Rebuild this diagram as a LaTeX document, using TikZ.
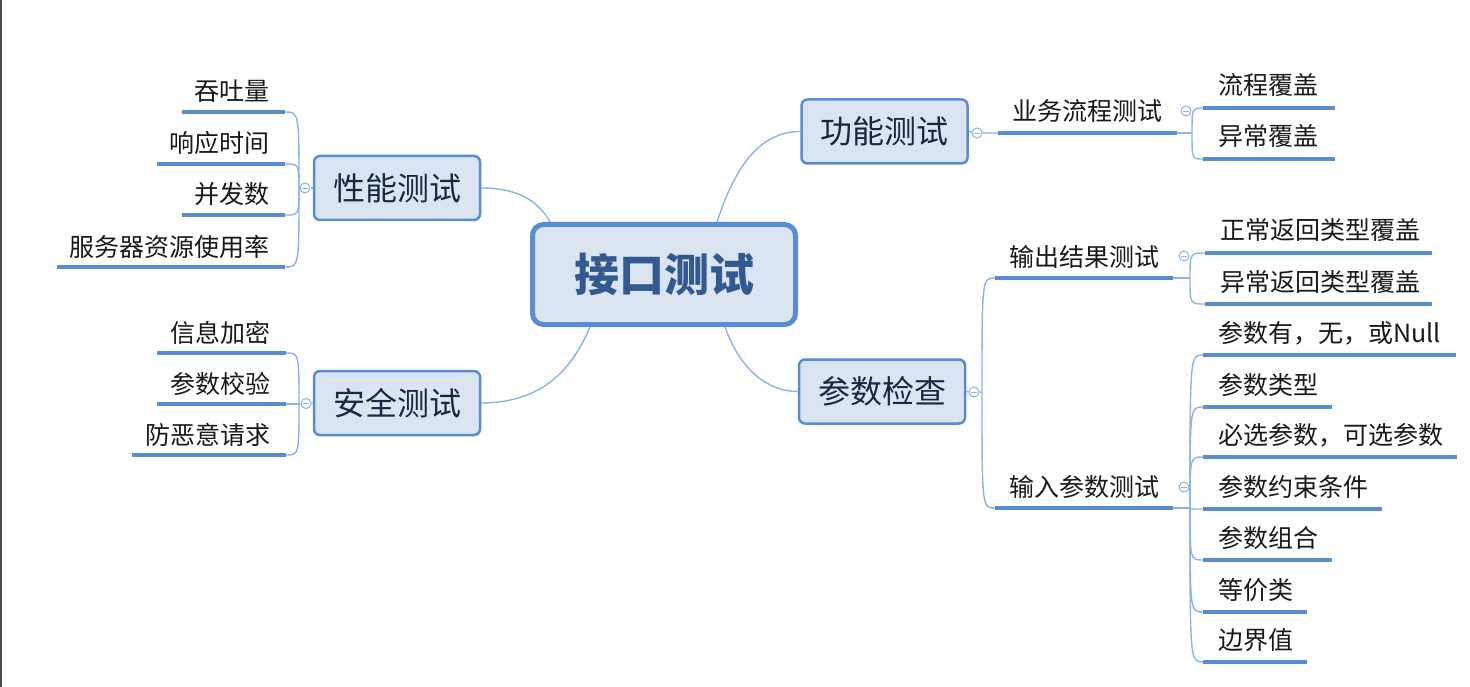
\documentclass[tikz,border=0pt]{standalone}
\usepackage{fontspec}
\setmainfont{Noto Sans CJK SC}
\usetikzlibrary{backgrounds}
\definecolor{mainblue}{RGB}{88,141,212}
\definecolor{linkblue}{RGB}{141,179,226}
\definecolor{boxfill}{RGB}{219,229,241}
\definecolor{roottext}{RGB}{50,90,145}
\definecolor{topictext}{RGB}{25,40,65}
\definecolor{leaftext}{RGB}{25,25,25}
\definecolor{edgegray}{RGB}{75,75,75}
\tikzset{
  rootbox/.style={draw=mainblue, line width=5pt, fill=boxfill, rounded corners=11pt,
    minimum width=263pt, minimum height=100pt, inner sep=0pt, text=roottext,
    font=\bfseries\fontsize{45}{50}\selectfont},
  topicbox/.style={draw=mainblue, line width=2.5pt, fill=boxfill, rounded corners=6pt,
    minimum width=166pt, minimum height=64pt, inner sep=0pt, text=topictext,
    font=\fontsize{32}{36}\selectfont},
  subtxt/.style={inner sep=0pt, text=leaftext, font=\fontsize{25}{30}\selectfont},
  leaftxt/.style={subtxt},
  conn/.style={draw=linkblue, line width=1.4pt},
  uline/.style={draw=mainblue, line width=3.6pt},
  fold/.style={circle, draw=linkblue, fill=white, line width=1pt, minimum size=10pt, inner sep=0pt,
    path picture={\draw[linkblue, line width=0.9pt]
      ([xshift=-3pt]path picture bounding box.center) -- ([xshift=3pt]path picture bounding box.center);}},
}
% right-side leaf: name, x0, x1, y, text
\newcommand\myleafR[5]{%
  \coordinate (#1-s) at (#2,#4);
  \coordinate (#1-e) at (#3,#4);
  \node[leaftxt, anchor=base west] (#1) at ({#2+15},{#4-13}) {#5};
  \draw[uline] (#1-s) -- (#1-e);
}
% left-side leaf
\newcommand\myleafL[5]{%
  \coordinate (#1-s) at (#2,#4);
  \coordinate (#1-e) at (#3,#4);
  \node[leaftxt, anchor=base east] (#1) at ({#3-15},{#4-11}) {#5};
  \draw[uline] (#1-s) -- (#1-e);
}
% sub topic (centered text)
\newcommand\mysubT[5]{%
  \coordinate (#1-s) at (#2,#4);
  \coordinate (#1-e) at (#3,#4);
  \node[subtxt, anchor=base] (#1) at ({(#2+#3)/2},{#4-12}) {#5};
  \draw[uline] (#1-s) -- (#1-e);
}
\newcommand\myfork[2]{\draw[conn] (#1) .. controls (#1 |- #2) .. (#2);}
\begin{document}
\begin{tikzpicture}[x=1pt,y=-1pt]
\useasboundingbox (0,0) rectangle (1470,687);
\fill[edgegray] (0,0) rectangle (2,687);

% main topics
\node[rootbox] (root) at (664,274.5) {接口测试};
\node[topicbox] (perf) at (397,188) {性能测试};
\node[topicbox] (sec) at (397,403) {安全测试};
\node[topicbox] (func) at (884.5,131.5) {功能测试};
\node[topicbox] (param) at (882,391.5) {参数检查};

% performance leaves
\myleafL{thr}{182}{285}{112}{吞吐量}
\myleafL{resp}{157}{285}{164}{响应时间}
\myleafL{conc}{182}{285}{215}{并发数}
\myleafL{srv}{57}{285}{267}{服务器资源使用率}
% security leaves
\myleafL{enc}{157}{286}{353}{信息加密}
\myleafL{chk}{157}{286}{404}{参数校验}
\myleafL{mal}{132}{286}{455}{防恶意请求}

% function
\mysubT{biz}{998}{1177}{133}{业务流程测试}
\myleafR{flow}{1203}{1335}{108}{流程覆盖}
\myleafR{exc}{1203}{1335}{159}{异常覆盖}

% parameter
\mysubT{out}{995}{1173}{278}{输出结果测试}
\mysubT{inp}{995}{1173}{508}{输入参数测试}
\myleafR{nr}{1205}{1432}{253}{正常返回类型覆盖}
\myleafR{er}{1205}{1432}{304}{异常返回类型覆盖}
\myleafR{p1}{1203}{1456}{355}{参数有，无，或Null}
\myleafR{p2}{1203}{1332}{407}{参数类型}
\myleafR{p3}{1203}{1457}{457}{必选参数，可选参数}
\myleafR{p4}{1203}{1382}{509}{参数约束条件}
\myleafR{p5}{1203}{1332}{560}{参数组合}
\myleafR{p6}{1203}{1307}{612}{等价类}
\myleafR{p7}{1203}{1307}{662}{边界值}

% fold markers
\node[fold] (perf-c) at (305,188) {};
\node[fold] (sec-c) at (306,403.5) {};
\node[fold] (func-c) at (977,133) {};
\node[fold] (param-c) at (974,392) {};
\node[fold] (biz-c) at (1186,111) {};
\node[fold] (out-c) at (1184,256) {};
\node[fold] (inp-c) at (1184,487) {};

% fork points
\coordinate (perf-f) at (299,188);
\coordinate (sec-f) at (299,404);
\coordinate (biz-f) at (1192,133);
\coordinate (param-f) at (982,392);
\coordinate (out-f) at (1190,278);
\coordinate (inp-f) at (1190,508);

\begin{pgfonlayer}{background}
  \fill[white] (2,0) rectangle (1470,687);
  % root to main topics
  \draw[conn] (perf.east) .. controls (522,188) and (540,204) .. ([xshift=-114pt]root.north);
  \draw[conn] (sec.east) .. controls (548,403) and (575,362) .. ([xshift=-74pt]root.south);
  \draw[conn] ([xshift=53pt]root.north) .. controls (734,170) and (758,131.5) .. (func.west);
  \draw[conn] ([xshift=61pt]root.south) .. controls (740,370) and (768,391.5) .. (param.west);
  % performance
  \draw[conn] (perf.west) -- (perf-c) -- (perf-f);
  \myfork{perf-f}{thr-e}
  \myfork{perf-f}{resp-e}
  \myfork{perf-f}{conc-e}
  \myfork{perf-f}{srv-e}
  % security
  \draw[conn] (sec.west) -- (sec-c) -- (sec-f);
  \myfork{sec-f}{enc-e}
  \myfork{sec-f}{chk-e}
  \myfork{sec-f}{mal-e}
  % function
  \draw[conn] (func.east) -- (func-c) -- (biz-s);
  \draw[conn] (biz-e) -- (biz-f);
  \myfork{biz-f}{flow-s}
  \myfork{biz-f}{exc-s}
  % parameter
  \draw[conn] (param.east) -- (param-c) -- (param-f);
  \myfork{param-f}{out-s}
  \myfork{param-f}{inp-s}
  \draw[conn] (out-e) -- (out-f);
  \myfork{out-f}{nr-s}
  \myfork{out-f}{er-s}
  \draw[conn] (inp-e) -- (inp-f);
  \myfork{inp-f}{p1-s}
  \myfork{inp-f}{p2-s}
  \myfork{inp-f}{p3-s}
  \myfork{inp-f}{p4-s}
  \myfork{inp-f}{p5-s}
  \myfork{inp-f}{p6-s}
  \myfork{inp-f}{p7-s}
\end{pgfonlayer}
\end{tikzpicture}
\end{document}
